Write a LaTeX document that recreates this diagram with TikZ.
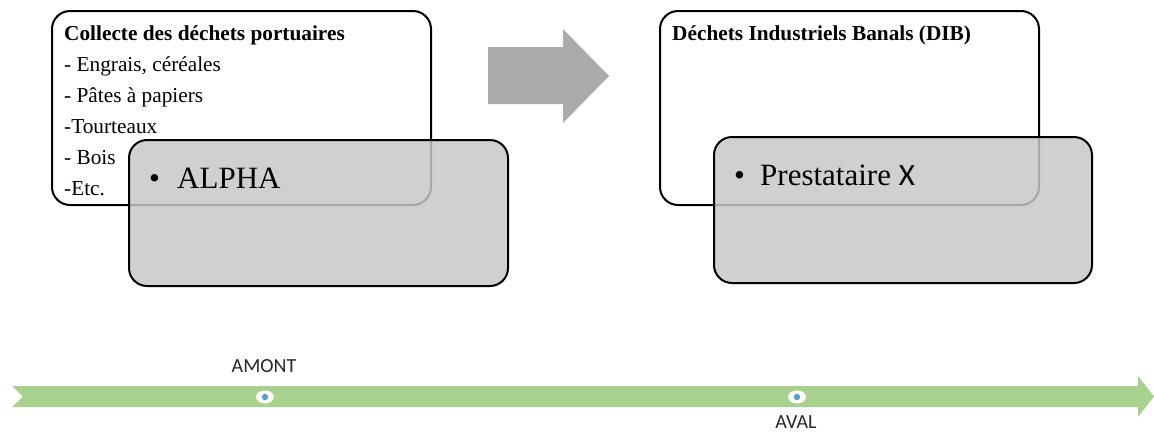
\documentclass[tikz,border=0pt]{standalone}
\usepackage{fontspec}
\setmainfont{Liberation Serif}
\newfontfamily\carl{Carlito}
\definecolor{boxgray}{gray}{0.78}
\definecolor{arrgray}{HTML}{ABABAB}
\definecolor{tlgreen}{HTML}{A9D18E}
\definecolor{dotblue}{HTML}{5B9BD5}
\begin{document}
\begin{tikzpicture}[x=1pt,y=-1pt,
  whitebox/.style={draw=black,line width=2pt,rounded corners=18pt,fill=white},
  graybox/.style={draw=black,line width=2pt,rounded corners=18pt,fill=boxgray,fill opacity=0.84,draw opacity=1,text opacity=1},
  small/.style={anchor=base west,inner sep=0pt,font=\fontsize{21.3}{24}\selectfont},
  smallb/.style={small,font=\fontsize{21.3}{24}\selectfont\bfseries},
  big/.style={anchor=base west,inner sep=0pt,font=\fontsize{31}{36}\selectfont},
  tllabel/.style={anchor=base,inner sep=0pt,font=\carl\fontsize{20}{24}\selectfont,text=black!85}]
\useasboundingbox (0,0) rectangle (1154,432);
% left white box
\draw[whitebox] (52,11) rectangle (431,205);
\node[smallb] (t1) at (64,40) {Collecte des déchets portuaires};
\node[small] (t2) at (64,71) {- Engrais, céréales};
\node[small] (t3) at (64,102) {- Pâtes à papiers};
\node[small] (t4) at (64,133) {-Tourteaux};
\node[small] (t5) at (64,164) {- Bois};
\node[small] (t6) at (64,195) {-Etc.};
% left gray box
\draw[graybox] (129,140) rectangle (508,286);
\node[big] (alphab) at (149,188) {\textbullet};
\node[big] (alpha) at (177,188) {ALPHA};
% right white box
\draw[whitebox] (660,11) rectangle (1039,205);
\node[smallb] (dib) at (672,40) {Déchets Industriels Banals (DIB)};
% right gray box
\draw[graybox] (714,137) rectangle (1092,283);
\node[big] (prestb) at (734,185) {\textbullet};
\node[big] (prest) at (760,185) {Prestataire {\carl X}};
% gray arrow
\fill[arrgray] (488,47) -- (563,47) -- (563,29) -- (609,76) -- (563,123) -- (563,104) -- (488,104) -- cycle;
% timeline
\fill[tlgreen] (12,386) -- (1138,386) -- (1138,376) -- (1154,396.5) -- (1138,417) -- (1138,407) -- (12,407) -- (23,396.5) -- cycle;
\coordinate (amont) at (265,397);
\coordinate (aval) at (797,397);
\fill[white] (amont) ellipse (9pt and 6.5pt);
\fill[dotblue] (amont) circle (3.2pt);
\fill[white] (aval) ellipse (9pt and 6.5pt);
\fill[dotblue] (aval) circle (3.2pt);
\node[tllabel] (lamont) at (264,372) {AMONT};
\node[tllabel] (laval) at (796,428.5) {AVAL};
\end{tikzpicture}
\end{document}
